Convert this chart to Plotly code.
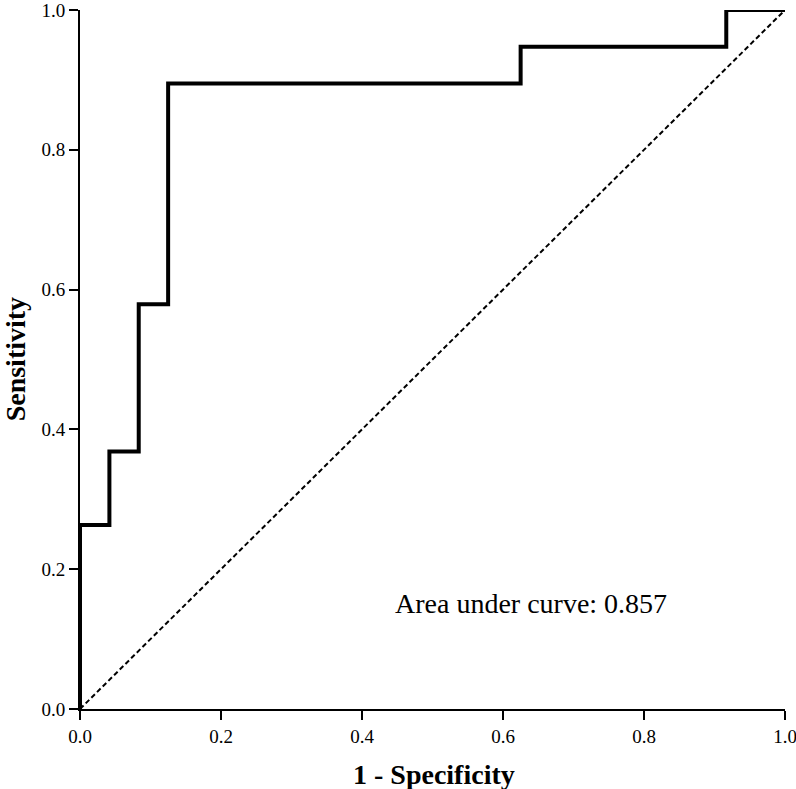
import plotly.graph_objects as go

# ROC curve points (1 - specificity, sensitivity)
fpr = [0.0, 0.0, 0.0417, 0.0833, 0.125, 0.625, 0.9167, 1.0]
tpr = [0.0, 0.2632, 0.3684, 0.5789, 0.8947, 0.9474, 1.0, 1.0]
ref_x = [0.0, 1.0]
ref_y = [0.0, 1.0]
auc_text = "Area under curve: 0.857"
x_title = "1 - Specificity"
y_title = "Sensitivity"
tick_vals = [0.0, 0.2, 0.4, 0.6, 0.8, 1.0]

serif = "Liberation Serif"

fig = go.Figure()

# reference diagonal
fig.add_trace(go.Scatter(
    x=ref_x, y=ref_y, mode="lines",
    line=dict(color="black", width=2, dash="5px,3px"),
    showlegend=False, hoverinfo="skip"
))

# stepped ROC curve
fig.add_trace(go.Scatter(
    x=fpr, y=tpr, mode="lines",
    line=dict(color="black", width=4, shape="hv"),
    cliponaxis=False, showlegend=False
))

fig.add_annotation(
    x=0.64, y=0.151, xref="x", yref="y",
    text=auc_text, showarrow=False,
    font=dict(family=serif, size=28, color="black")
)

# axis titles as annotations for exact placement
fig.add_annotation(
    x=0.502, y=-0.094, xref="paper", yref="paper",
    xanchor="center", yanchor="middle",
    text=f"<b>{x_title}</b>", showarrow=False,
    font=dict(family=serif, size=28, color="black")
)
fig.add_annotation(
    x=-0.091, y=0.5, xref="paper", yref="paper",
    xanchor="center", yanchor="middle", textangle=-90,
    text=f"<b>{y_title}</b>", showarrow=False, borderpad=0,
    font=dict(family=serif, size=28, color="black")
)

axis_common = dict(
    range=[0, 1],
    tickvals=tick_vals,
    tickformat=".1f",
    showgrid=False,
    zeroline=False,
    showline=True,
    linecolor="black",
    linewidth=2,
    ticks="outside",
    ticklen=9,
    tickwidth=2,
    tickcolor="black",
    tickfont=dict(family=serif, size=19, color="black"),
    ticklabeloverflow="allow",
    automargin=False,
)

fig.update_xaxes(**axis_common)
fig.update_yaxes(**axis_common)

fig.update_layout(
    width=796, height=789,
    margin=dict(l=80, r=11, t=10, b=80),
    plot_bgcolor="white",
    paper_bgcolor="white",
)

# drop the browser's default page margin so the figure sits at (0, 0)
fig.write_html(
    "out.html",
    config={"displayModeBar": False},
    post_script="document.body.style.margin='0';",
)
